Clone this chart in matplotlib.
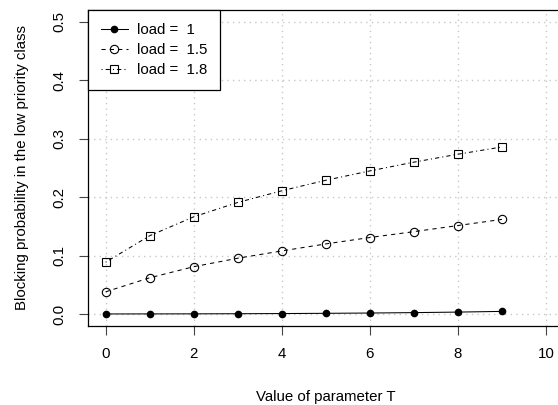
import matplotlib
matplotlib.use("Agg")
import matplotlib.pyplot as plt

T = [0, 1, 2, 3, 4, 5, 6, 7, 8, 9]
load_1 = [0.0001, 0.0002, 0.0003, 0.0005, 0.0008, 0.0012, 0.0017, 0.0024, 0.0033, 0.0045]
load_15 = [0.038, 0.062, 0.081, 0.0955, 0.108, 0.120, 0.131, 0.141, 0.1515, 0.162]
load_18 = [0.0887, 0.134, 0.1664, 0.191, 0.211, 0.229, 0.245, 0.260, 0.2736, 0.286]
labels = ["load =  1", "load =  1.5", "load =  1.8"]
xticks = [0, 2, 4, 6, 8, 10]
yticks = [0.0, 0.1, 0.2, 0.3, 0.4, 0.5]

FS = 10.8
plt.rcParams['font.family'] = ['Liberation Sans', 'DejaVu Sans']
fig = plt.figure(figsize=(5.58, 4.05), dpi=100)
ax = fig.add_axes([88/558, 79.3/405, 475.6/558, 315.4/405])
ax.set_xlim(-0.4, 10.4)
ax.set_ylim(-0.02, 0.52)

for x in xticks:
    ax.axvline(x, color='#C8C8C8', lw=1.0, linestyle=(0, (1, 3)), zorder=0)
for y in yticks:
    ax.axhline(y, color='#C8C8C8', lw=1.0, linestyle=(0, (1, 3)), zorder=0)

lw = 0.75
ax.plot(T, load_1, color='black', lw=lw, linestyle='-', marker='o', ms=4.5,
        mfc='black', mec='black', label=labels[0])
ax.plot(T, load_15, color='black', lw=lw, linestyle=(0, (4, 4)), marker='o', ms=6,
        mfc='none', mec='black', mew=0.8, label=labels[1])
ax.plot(T, load_18, color='black', lw=lw, linestyle=(0, (1, 3, 4, 3)), marker='s', ms=5.5,
        mfc='none', mec='black', mew=0.8, label=labels[2])

ax.set_xticks(xticks)
ax.set_xticklabels([str(v) for v in xticks])
ax.set_yticks(yticks)
ax.set_yticklabels(["0.0", "0.1", "0.2", "0.3", "0.4", "0.5"], rotation=90, va='center')
ax.tick_params(direction='out', length=6.5, width=0.8, labelsize=FS, pad=9, color='#444444')

for s in ax.spines.values():
    s.set_linewidth(0.9)
    s.set_color('black')

ax.set_xlabel("Value of parameter T", fontsize=FS, labelpad=21)
ax.set_ylabel("Blocking probability in the low priority class", fontsize=FS, labelpad=17)

leg = ax.legend(loc='upper left', bbox_to_anchor=(0, 1), borderaxespad=0,
                fancybox=False, edgecolor='black', framealpha=1, fontsize=FS,
                handlelength=1.8, handletextpad=0.6, labelspacing=0.4,
                borderpad=0.85)
leg.get_frame().set_linewidth(0.9)

fig.savefig("out.png", dpi=100)
